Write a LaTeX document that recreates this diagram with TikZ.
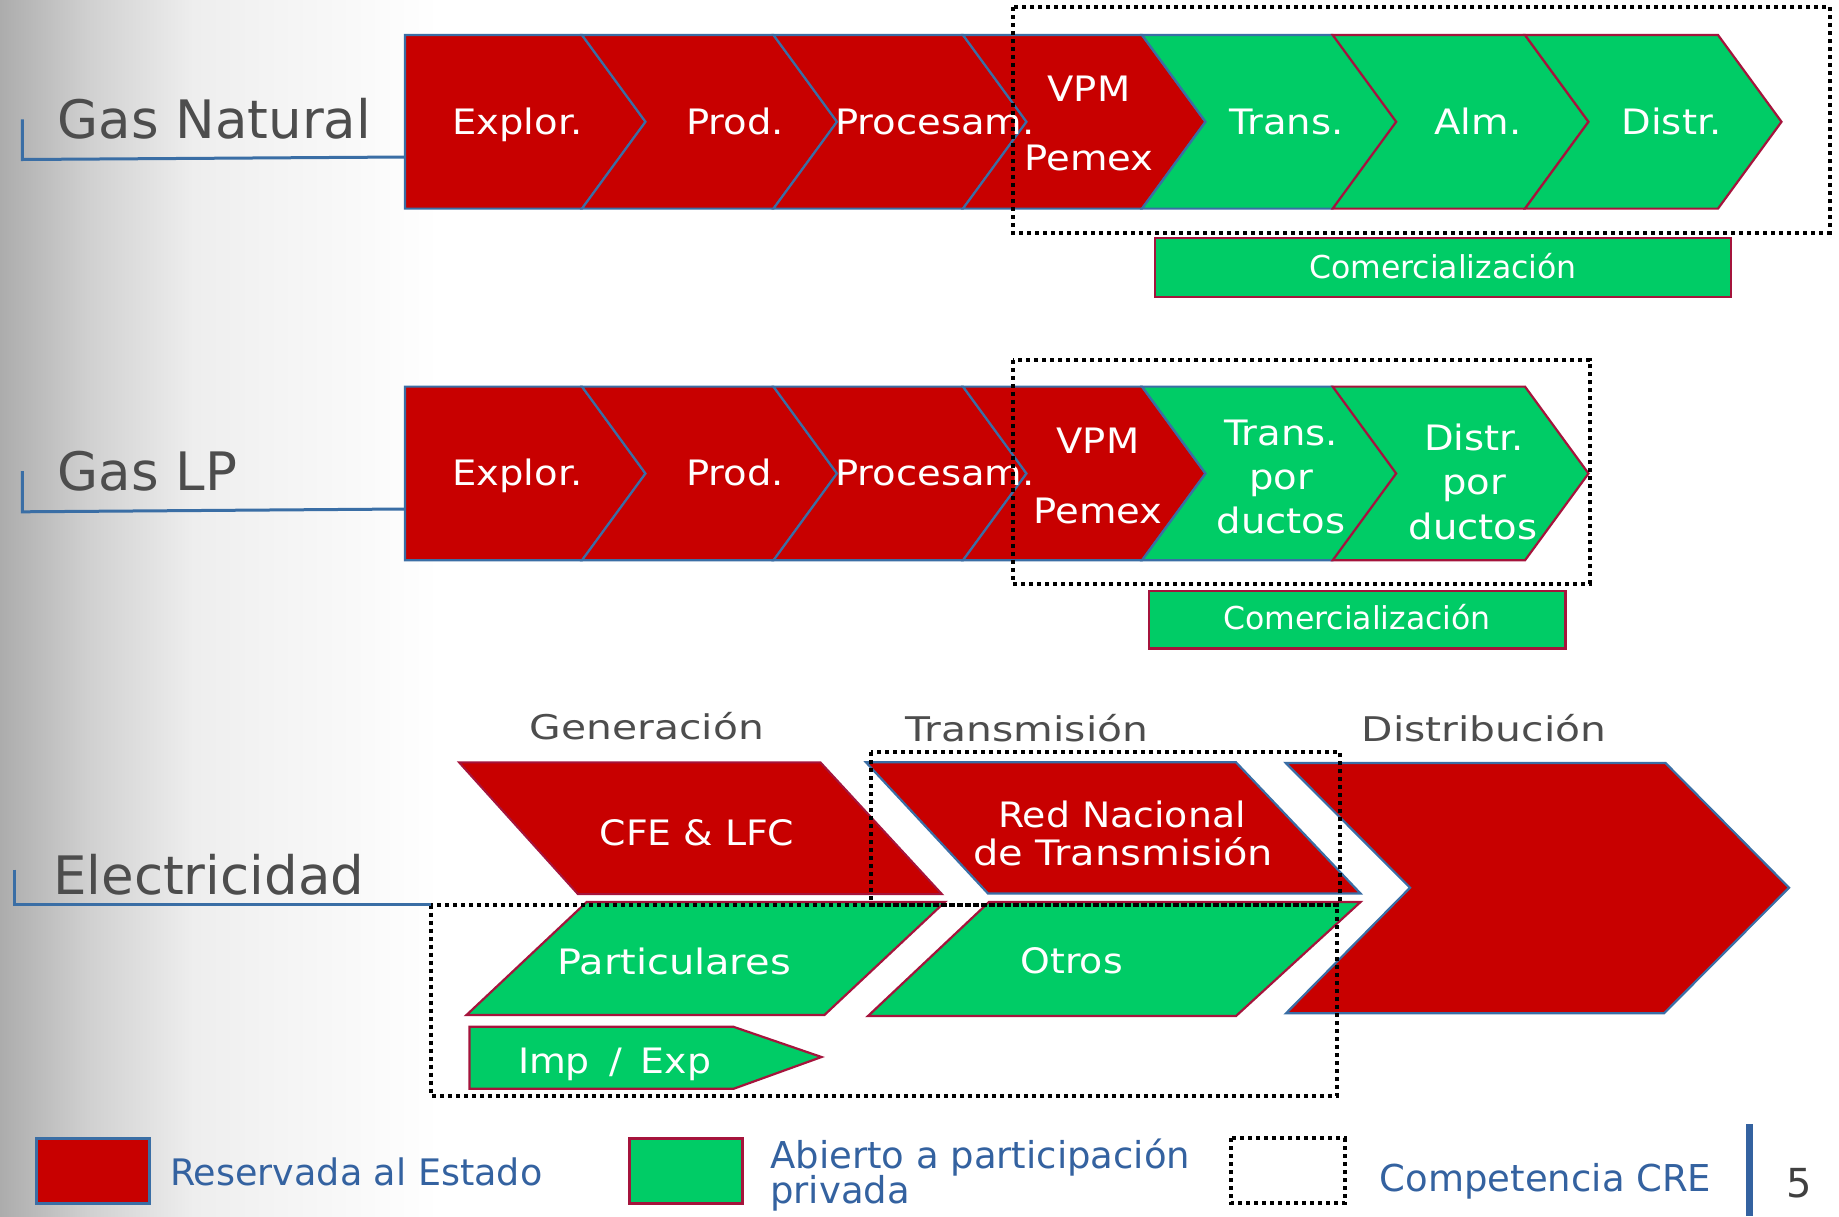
\documentclass[tikz,border=0pt]{standalone}
\usepackage{fontspec}
\setmainfont{DejaVu Sans}
\newfontfamily\stretchfont{DejaVu Sans}[FakeStretch=1.08]
\newfontfamily\chevfont{DejaVu Sans}[FakeStretch=1.1]
\newfontfamily\midfont{DejaVu Sans}[FakeStretch=1.14]
\newfontfamily\widefont{DejaVu Sans}[FakeStretch=1.2]
\definecolor{myred}{RGB}{200,0,0}
\definecolor{mygreen}{RGB}{0,204,102}
\definecolor{myblue}{RGB}{58,110,165}
\definecolor{mycrimson}{RGB}{165,20,60}
\definecolor{legblue}{RGB}{52,98,160}
\definecolor{txtgray}{RGB}{77,77,77}
\definecolor{shA}{RGB}{172,172,172}
\definecolor{shB}{RGB}{208,208,208}
\definecolor{shC}{RGB}{238,238,238}
\pgfdeclarehorizontalshading{bgshade}{100bp}{color(0bp)=(shA); color(25bp)=(shA); color(35bp)=(shB); color(47bp)=(shC); color(75bp)=(white); color(100bp)=(white)}
\tikzset{
  redch/.style={fill=myred, draw=myblue, line width=2.2pt, line join=miter},
  greench/.style={fill=mygreen, draw=mycrimson, line width=2.2pt, line join=miter},
  greenbl/.style={fill=mygreen, draw=myblue, line width=2.2pt, line join=miter},
  elred/.style={fill=myred, draw=mycrimson, line width=2pt, line join=miter},
  elredb/.style={fill=myred, draw=myblue, line width=2.2pt, line join=miter},
  comm/.style={fill=mygreen, draw=mycrimson, line width=2.5pt},
  cre/.style={draw=black, line width=4pt, dash pattern=on 4pt off 4pt},
  brk/.style={draw=myblue, line width=3pt},
  wtxt/.style={text=white, inner sep=0pt, anchor=base, font=\chevfont\fontsize{35}{40}\selectfont},
  ctxt/.style={text=white, inner sep=0pt, anchor=base, font=\fontsize{31.5}{36}\selectfont},
  etxt/.style={text=white, inner sep=0pt, anchor=base, font=\stretchfont\fontsize{35}{40}\selectfont},
  etxtw/.style={text=white, inner sep=0pt, anchor=base, font=\midfont\fontsize{35}{40}\selectfont},
  head/.style={text=txtgray, inner sep=0pt, anchor=base, font=\widefont\fontsize{34}{40}\selectfont},
  rowlab/.style={text=txtgray, inner sep=0pt, anchor=base west, font=\fontsize{53}{60}\selectfont},
  legtxt/.style={text=legblue, inner sep=0pt, anchor=base west, font=\fontsize{37}{40}\selectfont},
}
\begin{document}
\begin{tikzpicture}[x=1pt,y=-1pt]
\useasboundingbox (0,0) rectangle (1839,1216);
\fill[white] (0,0) rectangle (1839,1216);
\shade[shading=bgshade] (0,0) rectangle (440,1216);

% ---------------- Gas Natural ----------------
\draw[redch] (405,35)--(582,35)--(645.5,121.8)--(582,208.6)--(405,208.6)--cycle;
\draw[redch] (582,35)--(773.5,35)--(837,121.8)--(773.5,208.6)--(582,208.6)--(645.5,121.8)--cycle;
\draw[redch] (773.5,35)--(963,35)--(1026.5,121.8)--(963,208.6)--(773.5,208.6)--(837,121.8)--cycle;
\draw[redch] (963,35)--(1142,35)--(1205.5,121.8)--(1142,208.6)--(963,208.6)--(1026.5,121.8)--cycle;
\draw[greenbl] (1142,35)--(1332.7,35)--(1396.2,121.8)--(1332.7,208.6)--(1142,208.6)--(1205.5,121.8)--cycle;
\draw[greench] (1332.7,35)--(1525,35)--(1588.5,121.8)--(1525,208.6)--(1332.7,208.6)--(1396.2,121.8)--cycle;
\draw[greench] (1525,35)--(1718,35)--(1781.5,121.8)--(1718,208.6)--(1525,208.6)--(1588.5,121.8)--cycle;

\node[wtxt] (gn1) at (517.5,134) {Explor.};
\node[wtxt] (gn2) at (735,134) {Prod.};
\node[wtxt] (gn3) at (935,134) {Procesam.};
\node[wtxt] (gn4a) at (1089,101.6) {VPM};
\node[wtxt] (gn4b) at (1089,170.6) {Pemex};
\node[wtxt] (gn5) at (1286.4,134) {Trans.};
\node[wtxt] (gn6) at (1478,134) {Alm.};
\node[wtxt] (gn7) at (1671.6,134) {Distr.};

\draw[comm] (1155,238) rectangle (1731,297);
\node[ctxt] (gncom) at (1443,278.4) {Comercialización};
\draw[cre] (1013,7) rectangle (1830,232.6);

\node[rowlab] (gnlab) at (57.5,138.4) {Gas Natural};
\coordinate (gnb) at (22.3,119.4);
\coordinate (gnrow) at (405,157);
\draw[brk] (gnb) -- (22.3,159.5) -- (gnrow);

% ---------------- Gas LP ----------------
\draw[redch] (405,386.6)--(582,386.6)--(645.5,473.5)--(582,560.3)--(405,560.3)--cycle;
\draw[redch] (582,386.6)--(773.5,386.6)--(837,473.5)--(773.5,560.3)--(582,560.3)--(645.5,473.5)--cycle;
\draw[redch] (773.5,386.6)--(963,386.6)--(1026.5,473.5)--(963,560.3)--(773.5,560.3)--(837,473.5)--cycle;
\draw[redch] (963,386.6)--(1142,386.6)--(1205.5,473.5)--(1142,560.3)--(963,560.3)--(1026.5,473.5)--cycle;
\draw[greenbl] (1142,386.6)--(1332.7,386.6)--(1396.2,473.5)--(1332.7,560.3)--(1142,560.3)--(1205.5,473.5)--cycle;
\draw[greench] (1332.7,386.6)--(1525,386.6)--(1588.5,473.5)--(1525,560.3)--(1332.7,560.3)--(1396.2,473.5)--cycle;

\node[wtxt] (lp1) at (517.5,485.5) {Explor.};
\node[wtxt] (lp2) at (735,485.5) {Prod.};
\node[wtxt] (lp3) at (935,485.5) {Procesam.};
\node[wtxt] (lp4a) at (1098,453.7) {VPM};
\node[wtxt] (lp4b) at (1098,523.5) {Pemex};
\node[wtxt] (lp5a) at (1281,445.9) {Trans.};
\node[wtxt] (lp5b) at (1281,489.3) {por};
\node[wtxt] (lp5c) at (1281,533) {ductos};
\node[wtxt] (lp6a) at (1474,450.6) {Distr.};
\node[wtxt] (lp6b) at (1474,494.4) {por};
\node[wtxt] (lp6c) at (1473,539.7) {ductos};

\draw[comm] (1149,591) rectangle (1565.7,648.7);
\node[ctxt] (lpcom) at (1357,629.3) {Comercialización};
\draw[cre] (1013,359.8) rectangle (1589.7,583.6);

\node[rowlab] (lplab) at (57.5,490.5) {Gas LP};
\coordinate (lpb) at (22.3,471);
\coordinate (lprow) at (405,509);
\draw[brk] (lpb) -- (22.3,511.8) -- (lprow);

% ---------------- Electricidad ----------------
\node[head] (hgen) at (647,739) {Generación};
\node[head] (htra) at (1027,741.8) {Transmisión};
\node[head] (hdis) at (1484,741.8) {Distribución};

\draw[elred] (459,762.3)--(820.4,762.3)--(942,894.2)--(578,894.2)--cycle;
\draw[elredb] (866,762.3)--(1236,762.3)--(1360.5,893.5)--(988,893.5)--cycle;
\draw[greench] (586.8,901.9)--(945,901.9)--(824.4,1015)--(466.5,1015)--cycle;
\draw[greench] (989,902)--(1360.5,902)--(1236,1016)--(868,1016)--cycle;
\draw[greench] (469.4,1026.8)--(733.5,1026.8)--(821.5,1057)--(733.5,1088.8)--(469.4,1088.8)--cycle;
\draw[elredb] (1285.8,763)--(1665.5,763)--(1789,887.7)--(1664,1013.3)--(1286,1013.3)--(1410,887.7)--cycle;

\node[etxt] (cfe) at (697,845.3) {CFE \& LFC};
\node[etxt] (rna) at (1122,827) {Red Nacional};
\node[etxtw] (rnb) at (1123,865.9) {de Transmisión};
\node[etxtw] (par) at (674,974.4) {Particulares};
\node[etxt] (otr) at (1071.6,973) {Otros};
\node[etxt] (imp) at (614.5,1073.3) {Imp\hspace{7pt} /\hspace{7pt} Exp};

\draw[cre] (871.4,752.2) rectangle (1339.8,904.6);
\draw[cre] (431.3,904.6) rectangle (1337,1095.8);

\node[rowlab] (ellab) at (53,894) {Electricidad};
\coordinate (elb) at (14.7,869.7);
\coordinate (elrow) at (431.3,904.6);
\draw[brk] (elb) |- (elrow);

% ---------------- Legend ----------------
\draw[fill=myred, draw=myblue, line width=3pt] (36.4,1138.4) rectangle (149.6,1203.2);
\node[legtxt, font=\fontsize{36.5}{40}\selectfont] (lg1) at (170,1185.7) {Reservada al Estado};
\draw[fill=mygreen, draw=mycrimson, line width=3pt] (629,1138.4) rectangle (742,1203.2);
\node[legtxt] (lg2a) at (770,1168) {Abierto a participación};
\node[legtxt] (lg2b) at (770,1203) {privada};
\draw[cre] (1231,1138.4) rectangle (1344.5,1203.2);
\node[legtxt] (lg3) at (1379.7,1191.6) {Competencia CRE};
\fill[legblue] (1746,1123.7) rectangle (1753,1216);
\node[inner sep=0pt, anchor=base west, text={rgb,255:red,64;green,64;blue,64}, font=\fontsize{40}{44}\selectfont] (pg) at (1786,1197.4) {5};
\end{tikzpicture}
\end{document}
